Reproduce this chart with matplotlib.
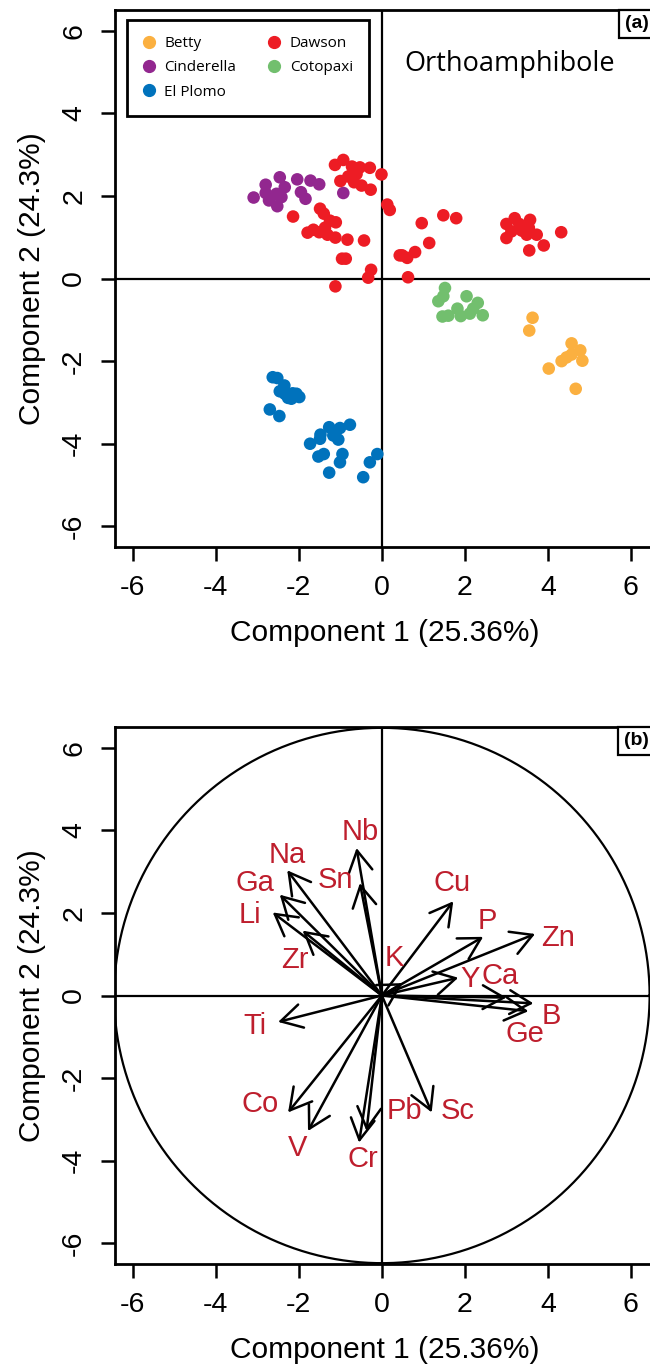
import numpy as np
import matplotlib
matplotlib.use("Agg")
import matplotlib.pyplot as plt
from matplotlib.lines import Line2D

plt.rcParams['font.family'] = ['Liberation Sans', 'DejaVu Sans']
plt.rcParams['axes.unicode_minus'] = False

# ---- panel (a) scores ----
sites = ["Betty", "Cinderella", "El Plomo", "Dawson", "Cotopaxi"]
site_colors = ["#FBB040", "#92278F", "#0072BC", "#ED1C24", "#72BF6E"]

betty_x = [3.63, 3.55, 4.57, 4.78, 4.83, 4.57, 4.45, 4.33, 4.02, 4.67]
betty_y = [-0.95, -1.26, -1.57, -1.74, -1.99, -1.84, -1.91, -2.00, -2.18, -2.67]

cinderella_x = [-3.09, -2.80, -2.80, -2.70, -2.46, -2.54, -2.34, -2.42, -2.52, -2.72,
                -2.04, -1.95, -1.84, -1.72, -1.51, -0.93]
cinderella_y = [1.96, 2.27, 2.07, 1.93, 2.45, 2.05, 2.21, 1.97, 1.75, 1.89,
                2.40, 2.09, 1.93, 2.37, 2.28, 2.07]

elplomo_x = [-2.63, -2.52, -2.35, -2.46, -2.34, -2.26, -2.15, -2.06, -1.99, -2.18,
             -2.70, -2.47, -1.27, -1.01, -0.77, -1.48, -1.49, -1.17, -1.05, -1.73,
             -1.40, -1.53, -0.95, -1.01, -1.27, -0.45, -0.29, -0.11]
elplomo_y = [-2.39, -2.41, -2.59, -2.73, -2.79, -2.89, -2.78, -2.79, -2.87, -2.91,
             -3.17, -3.33, -3.60, -3.62, -3.54, -3.78, -3.88, -3.80, -3.90, -4.00,
             -4.25, -4.31, -4.25, -4.45, -4.70, -4.81, -4.45, -4.25]

dawson_x = [-1.13, -0.93, -0.72, -0.53, -0.29, -1.00, -0.81, -0.61, -0.67, -0.49,
            -0.27, -0.01, 0.13, 0.19, -2.14, -1.49, -1.40, -1.25, -1.11, -1.79,
            -1.65, -1.51, -1.37, -1.31, -1.12, -0.83, -0.43, -0.96, -0.87, -0.26,
            -0.33, -1.12, 0.43, 0.96, 1.48, 1.79, 1.14, 0.80, 0.49, 0.61, 0.63,
            3.00, 3.20, 3.31, 3.57, 3.12, 3.37, 3.54, 3.49, 3.73, 3.00, 3.55, 3.90, 4.32]
dawson_y = [2.75, 2.87, 2.71, 2.69, 2.68, 2.36, 2.47, 2.53, 2.33, 2.25,
            2.15, 2.52, 1.79, 1.66, 1.50, 1.69, 1.57, 1.40, 1.36, 1.11,
            1.18, 1.12, 1.23, 1.06, 0.99, 0.94, 0.92, 0.48, 0.48, 0.21,
            0.02, -0.19, 0.56, 1.34, 1.53, 1.46, 0.86, 0.64, 0.56, 0.50, 0.03,
            1.32, 1.46, 1.32, 1.42, 1.14, 1.16, 1.23, 1.06, 1.06, 0.98, 0.68, 0.80, 1.12]

cotopaxi_x = [1.52, 1.48, 1.36, 2.04, 1.82, 2.31, 2.20, 2.12, 1.90, 1.46, 1.60, 2.43]
cotopaxi_y = [-0.23, -0.43, -0.55, -0.43, -0.73, -0.59, -0.73, -0.85, -0.91, -0.92, -0.90, -0.89]

site_x = [betty_x, cinderella_x, elplomo_x, dawson_x, cotopaxi_x]
site_y = [betty_y, cinderella_y, elplomo_y, dawson_y, cotopaxi_y]

# ---- panel (b) loadings ----
elements = ["Nb", "Sn", "Na", "Ga", "Li", "Zr", "K", "Cu", "P", "Zn",
            "Y", "Ca", "B", "Ge", "Ti", "Co", "V", "Cr", "Pb", "Sc"]
load_x = [-0.61, -0.53, -2.28, -2.46, -2.63, -1.91, 0.50, 1.72, 2.44, 3.69,
          1.84, 3.00, 3.65, 3.53, -2.50, -2.26, -1.78, -0.55, -0.37, 1.20]
load_y = [3.57, 2.72, 3.03, 2.44, 2.01, 1.57, 0.30, 2.28, 1.42, 1.49,
          0.43, -0.05, -0.19, -0.38, -0.64, -2.83, -3.28, -3.56, -3.28, -2.83]
# where each element name is written
label_x = [-0.53, -1.13, -2.28, -3.06, -3.18, -2.10, 0.31, 1.68, 2.54, 4.25,
           2.12, 2.84, 4.09, 3.45, -3.06, -2.94, -2.04, -0.45, 0.55, 1.83]
label_y = [3.97, 2.80, 3.41, 2.72, 1.96, 0.85, 0.91, 2.72, 1.80, 1.39,
           0.39, 0.46, -0.50, -0.94, -0.74, -2.63, -3.68, -3.96, -2.80, -2.80]

xlabel = "Component 1 (25.36%)"
ylabel = "Component 2 (24.3%)"
ticks = [-6, -4, -2, 0, 2, 4, 6]

W, H = 650, 1371
fig = plt.figure(figsize=(W / 100, H / 100), dpi=100)
ax1 = fig.add_axes([115 / W, 1 - 547 / H, 540 / W, 537 / H])
ax2 = fig.add_axes([115 / W, 1 - 1264 / H, 540 / W, 537 / H])


def style_axes(ax, tag):
    ax.set_xlim(-6.43, 6.58)
    ax.set_ylim(-6.5, 6.5)
    ax.set_xticks(ticks)
    ax.set_yticks(ticks)
    ax.tick_params(axis='both', direction='out', length=10, width=1.8,
                   labelsize=20.5, pad=10)
    for lab in ax.get_yticklabels():
        lab.set_rotation(90)
        lab.set_va('center')
    for sp in ax.spines.values():
        sp.set_linewidth(2)
    ax.axhline(0, color='k', lw=1.6, zorder=1)
    ax.axvline(0, color='k', lw=1.6, zorder=1)
    ax.set_xlabel(xlabel, fontsize=21.5, labelpad=13)
    ax.set_ylabel(ylabel, fontsize=21.5, labelpad=11)
    ax.text(0.988, 0.99, tag, transform=ax.transAxes, ha='right', va='top',
            fontsize=14, fontweight='bold',
            bbox=dict(boxstyle='square,pad=0.3', fc='white', ec='black', lw=1.6))


style_axes(ax1, "(a)")
for name, col, xs, ys in zip(sites, site_colors, site_x, site_y):
    ax1.scatter(xs, ys, s=82, color=col, edgecolors='none', zorder=3, label=name)

handles = [Line2D([], [], marker='o', ls='', color=c, markersize=8.5) for c in site_colors]
leg = ax1.legend(handles, sites, ncol=2, loc='upper left', bbox_to_anchor=(0.022, 0.981),
                 frameon=True, fancybox=False, framealpha=1, edgecolor='black',
                 prop={'family': 'Open Sans', 'size': 11}, handlelength=0.8,
                 handletextpad=0.6, columnspacing=2.1, labelspacing=0.6,
                 borderpad=1.05, borderaxespad=0)
leg.get_frame().set_linewidth(2)
ax1.text(3.08, 5.2, "Orthoamphibole", ha='center', va='center',
         fontsize=19.5, family='Open Sans')

style_axes(ax2, "(b)")
t = np.linspace(0, 2 * np.pi, 400)
ax2.plot(6.45 * np.cos(t), 6.48 * np.sin(t), color='k', lw=1.6, zorder=2)
for el, lx, ly, tx, ty in zip(elements, load_x, load_y, label_x, label_y):
    ax2.annotate('', xy=(lx, ly), xytext=(0, 0),
                 arrowprops=dict(arrowstyle='->,head_length=0.8,head_width=0.45',
                                 lw=1.8, color='k', shrinkA=0, shrinkB=0,
                                 mutation_scale=19), zorder=3)
    ax2.text(tx, ty, el, ha='center', va='center', fontsize=21, color='#BE1E2D', zorder=4)

fig.savefig("out.png", dpi=100)
